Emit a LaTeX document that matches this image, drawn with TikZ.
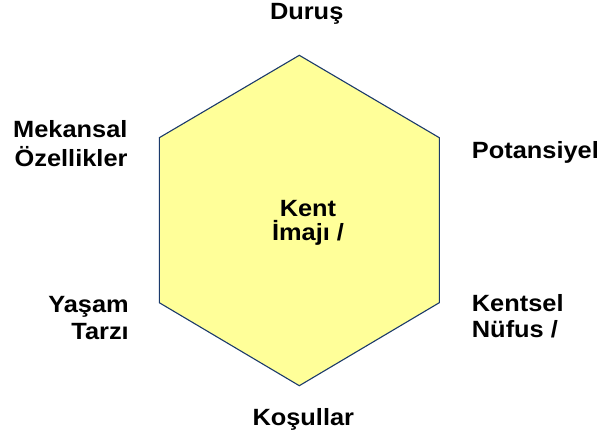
\documentclass[tikz,border=0pt]{standalone}
\usepackage{fontspec}
\setmainfont{Liberation Sans}
\definecolor{hexfill}{HTML}{FFFF99}
\definecolor{hexline}{HTML}{1B3A6B}
\begin{document}
\begin{tikzpicture}[x=1pt,y=-1pt,
  lbl/.style={font=\fontsize{23.5}{26}\selectfont\bfseries,inner sep=0pt,xscale=1.08}]
  \useasboundingbox (0,0) rectangle (602,441);
  % hexagon corners
  \coordinate (top) at (299.3,55.3);
  \coordinate (ur) at (439.3,137.7);
  \coordinate (lr) at (439.3,302.7);
  \coordinate (bot) at (299.3,385.7);
  \coordinate (ll) at (159.3,302.7);
  \coordinate (ul) at (159.3,137.7);
  \draw[hexline,line width=1.1pt,fill=hexfill,line join=miter] (top) -- (ur) -- (lr) -- (bot) -- (ll) -- (ul) -- cycle;
  % labels (base = last line)
  \node[lbl,anchor=base,align=center] (center) at (308,240) {Kent\\[-2.7pt]İmajı /};
  \node[lbl,anchor=base] (durus) at (306.7,20) {Duruş};
  \node[lbl,anchor=base east,align=right] (mekan) at (127.7,166.7) {Mekansal\\[3pt]Özellikler};
  \node[lbl,anchor=base west] (potans) at (471.7,158.3) {Potansiyel};
  \node[lbl,anchor=base east,align=right] (yasam) at (129,339.3) {Yaşam\\[0.5pt]Tarzı};
  \node[lbl,anchor=base west,align=left] (nufus) at (471.7,337.3) {Kentsel\\Nüfus /};
  \node[lbl,anchor=base] (kosul) at (303.3,425) {Koşullar};
\end{tikzpicture}
\end{document}
